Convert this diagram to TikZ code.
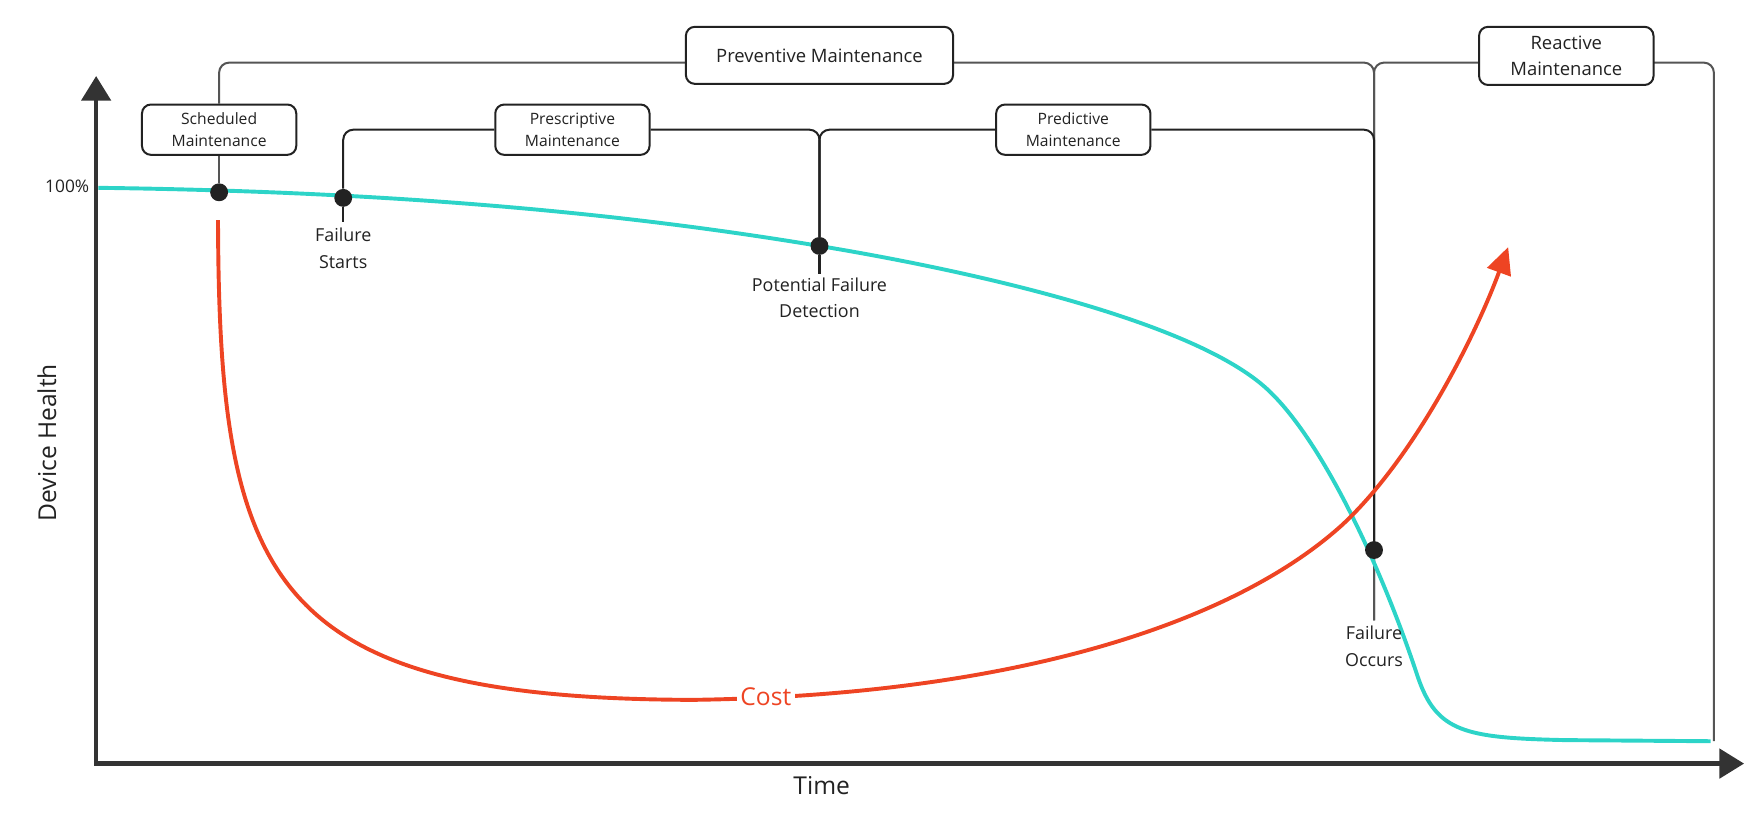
\documentclass[tikz,border=0pt]{standalone}
\usepackage{fontspec}
\setmainfont{Open Sans}
\usetikzlibrary{arrows.meta,backgrounds,positioning}
\definecolor{health}{HTML}{2DD4C8}
\definecolor{cost}{HTML}{EE4423}
\definecolor{axis}{HTML}{333333}
\definecolor{ink}{HTML}{222222}
\definecolor{guide}{HTML}{555555}
\tikzset{
  phase/.style={draw=ink, line width=1.8pt, rounded corners=8pt, fill=white, align=center, text=ink,
    minimum height=45pt, minimum width=138pt, inner sep=0pt, font=\fontsize{14}{19.5}\selectfont},
  bigphase/.style={phase, font=\fontsize{16.5}{23}\selectfont, minimum height=51pt},
  event/.style={circle, fill=ink, minimum size=16pt, inner sep=0pt},
  tag/.style={align=center, text=ink, font=\fontsize{16}{24}\selectfont, inner sep=0pt},
  axislabel/.style={text=ink, font=\fontsize{22}{26}\selectfont},
  branch/.style={draw=ink, line width=1.8pt, rounded corners=9pt},
  span/.style={draw=guide, line width=1.8pt, rounded corners=9pt},
  axisline/.style={draw=axis, line width=4pt, -{Triangle[length=22pt,width=26pt]}},
  healthline/.style={draw=health, line width=3.5pt},
  costline/.style={draw=cost, line width=3.5pt, -{Triangle[length=24pt,width=22pt]}},
}
\begin{document}
\begin{tikzpicture}[x=1pt,y=-1pt]
  \useasboundingbox (0,0) rectangle (1568,743);

  % phases
  \node[phase] (sched) at (196,116) {Scheduled\\Maintenance};
  \node[phase] (presc) at (512,116) {Prescriptive\\Maintenance};
  \node[phase] (pred) at (960,116) {Predictive\\Maintenance};
  \node[bigphase, minimum width=239pt] (prev) at (733,49.5) {Preventive Maintenance};
  \node[bigphase, minimum width=156pt, minimum height=52pt] (react) at (1401,50) {Reactive\\Maintenance};

  % events on the health curve
  \node[event] (sm) at (196,172) {};
  \node[event] (fs) at (307,177) {};
  \node[event] (pf) at (733,220) {};
  \node[event] (fo) at (1229,492) {};

  \node[tag, anchor=north] (fsl) at (307,204) {Failure\\Starts};
  \node[tag, anchor=north] (pfl) at (733,248) {Potential Failure\\Detection};
  \node[tag, anchor=north] (fol) at (1229,560) {Failure\\Occurs};

  % axes and labels
  \coordinate (origin) at (86,685);
  \coordinate (ytip) at (86,68);
  \coordinate (xstart) at (84,683);
  \coordinate (xtip) at (1560,683);
  \node[tag, anchor=east, font=\fontsize{15.5}{18}\selectfont] (full) at (80,167) {100\%};
  \node[axislabel, rotate=90] (health) at (42,396) {Device Health};
  \node[axislabel] (time) at (735,703) {Time};
  \node[axislabel, text=cost, fill=white, inner sep=3pt] (costl) at (685,623) {Cost};

  \coordinate (prevbar) at (733,56);
  \coordinate (reactbar) at (1401,56);
  \coordinate (reactend) at (1533,663);
  \coordinate (split) at ([yshift=5pt]fol.north);

  \begin{scope}[on background layer]
    \draw[axisline] (origin) -- (ytip);
    \draw[axisline] (xstart) -- (xtip);

    \draw[span] (sched.north) |- (prevbar) -| (split);
    \draw[span] (split) |- (reactbar) -| (reactend);
    \draw[span] (sched.south) -- (sm);
    \draw[branch] (fs) |- (presc) -| (pf);
    \draw[branch] (pf) |- (pred) -| (fo);
    \draw[branch] (fs) -- ([yshift=5pt]fsl.north);
    \draw[branch] (pf) -- ([yshift=3pt]pfl.north);

    \draw[healthline] (88,168) .. controls (400,172) and (600,198) .. (733,220)
      .. controls (866,242) and (1060,285) .. (1130,345)
      .. controls (1180,388) and (1235,505) .. (1268,605)
      .. controls (1285,655) and (1310,660) .. (1400,662) -- (1530,663);
    \draw[costline] (195,197) .. controls (196,520) and (240,625) .. (620,626)
      .. controls (900,622) and (1100,560) .. (1200,470)
      .. controls (1265,410) and (1320,300) .. (1349,221);
  \end{scope}
\end{tikzpicture}
\end{document}
